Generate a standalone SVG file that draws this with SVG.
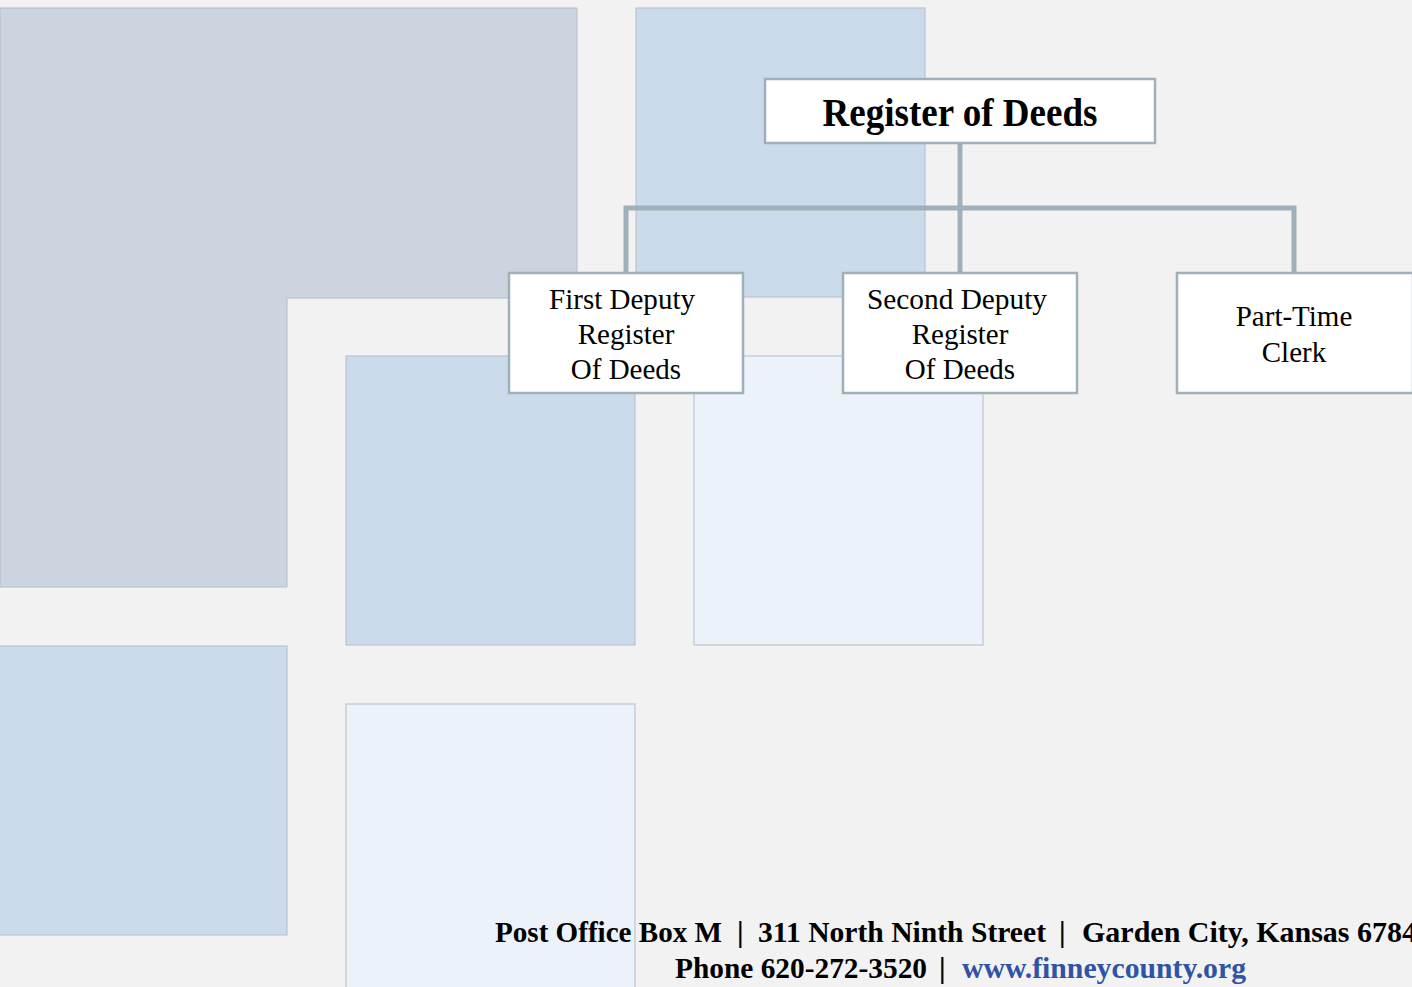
<svg xmlns="http://www.w3.org/2000/svg" width="1412" height="987" viewBox="0 0 1412 987">
<style>
.bg{stroke:#b4bcc6;stroke-width:1}
.grey{fill:#cbd4df}
.blue{fill:#cbdbeb}
.pale{fill:#ebf2fa}
.box{fill:#ffffff;stroke:#9fb1b8;stroke-width:2.5}
.conn{fill:none;stroke:#9fb1b8;stroke-width:5}
.t{font-family:"Liberation Serif","Times New Roman",serif;fill:#000;text-anchor:middle}
.title{font-size:40px;font-weight:bold}
.lbl{font-size:29px}
.foot{font-family:"Liberation Serif","Times New Roman",serif;font-size:30px;font-weight:bold;fill:#000}
.link{fill:#3053a5}
</style>
<rect width="1412" height="987" fill="#f2f2f2"/>
<g id="background">
<path class="grey bg" d="M0 8 H577 V298 H287 V587 H0 Z"/>
<rect class="blue bg" x="636" y="8" width="289" height="289"/>
<rect class="blue bg" x="346" y="356" width="289" height="289"/>
<rect class="pale bg" x="694" y="356" width="289" height="289"/>
<rect class="blue bg" x="-1" y="646" width="288" height="289"/>
<rect class="pale bg" x="346" y="704" width="289" height="290"/>
</g>
<g id="connectors">
<path class="conn" d="M960 143 V272"/>
<path class="conn" d="M626 272 V208 H1294 V272"/>
</g>
<g id="node-register">
<rect class="box" x="765" y="79" width="390" height="64"/>
<text class="t title" x="960" y="126" textLength="275" lengthAdjust="spacingAndGlyphs">Register of Deeds</text>
</g>
<g id="node-first-deputy">
<rect class="box" x="509" y="273" width="234" height="120"/>
<text class="t lbl" x="622" y="309" textLength="146" lengthAdjust="spacingAndGlyphs">First Deputy</text>
<text class="t lbl" x="626" y="344">Register</text>
<text class="t lbl" x="626" y="379">Of Deeds</text>
</g>
<g id="node-second-deputy">
<rect class="box" x="843" y="273" width="234" height="120"/>
<text class="t lbl" x="957" y="309" textLength="180" lengthAdjust="spacingAndGlyphs">Second Deputy</text>
<text class="t lbl" x="960" y="344">Register</text>
<text class="t lbl" x="960" y="379">Of Deeds</text>
</g>
<g id="node-part-time">
<rect class="box" x="1177" y="273" width="236" height="120"/>
<text class="t lbl" x="1294" y="326">Part-Time</text>
<text class="t lbl" x="1294" y="362">Clerk</text>
</g>
<g id="footer">
<text class="foot" y="942"><tspan x="495" textLength="227" lengthAdjust="spacingAndGlyphs">Post Office Box M</tspan><tspan x="737">|</tspan><tspan x="758" textLength="288" lengthAdjust="spacingAndGlyphs">311 North Ninth Street</tspan><tspan x="1059">|</tspan><tspan x="1082" textLength="350" lengthAdjust="spacingAndGlyphs">Garden City, Kansas 67846</tspan></text>
<text class="foot" y="978"><tspan x="675" textLength="252" lengthAdjust="spacingAndGlyphs">Phone 620-272-3520</tspan><tspan x="939">|</tspan><tspan class="link" x="962" textLength="284" lengthAdjust="spacingAndGlyphs">www.finneycounty.org</tspan></text>
</g>
</svg>
